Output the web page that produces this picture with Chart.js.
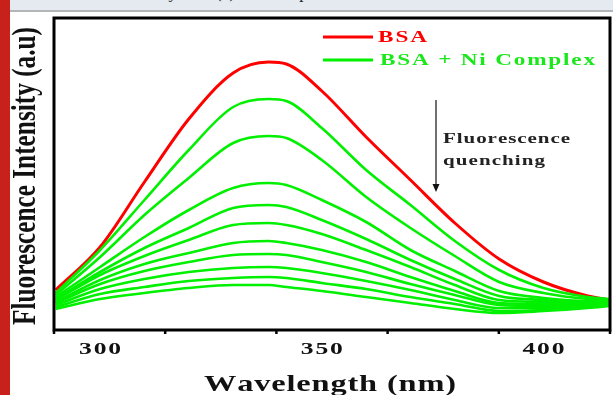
<!DOCTYPE html>
<html><head><meta charset="utf-8">
<script src="https://cdn.jsdelivr.net/npm/chart.js@4/dist/chart.umd.min.js"></script>
<style>
html,body{margin:0;padding:0;background:#fff;width:613px;height:395px;overflow:hidden;}
#wrap{position:relative;width:613px;height:395px;}
#c{position:absolute;left:0;top:0;}
#bar{position:absolute;left:0;top:0;width:10px;height:395px;background:#c8201a;z-index:3}
#band{position:absolute;left:10px;top:0;width:603px;height:10px;background:#e5eaf0;border-bottom:2px solid #b4b6b8;overflow:hidden;z-index:2}
#band span{position:absolute;top:-17px;font:17px "Liberation Serif",serif;color:#222;white-space:nowrap}
</style></head>
<body>
<div id="wrap">
<canvas id="c" width="613" height="395"></canvas>
<div id="bar"></div>
<div id="band"><span style="left:150px">by</span><span style="left:206px">(a)</span><span style="left:260px">complex</span></div>
</div>
<script>
// ---- data ----
const wavelengths = [290, 300, 310, 320, 330, 338, 342, 350, 360, 370, 380, 390, 400, 410, 415];
const bsa   = [40, 83, 148, 211, 257, 268, 266, 239, 193, 150, 107, 71, 48, 34, 30];
const ni1   = [37, 80, 130, 180, 223, 231, 229, 202, 160, 125, 89, 60, 42, 33, 31];
const ni2   = [35, 73, 115, 152, 187, 194, 192, 170, 133, 102, 74, 48, 37, 31, 30];
const ni3   = [33, 63, 93, 120, 142, 147, 145, 130, 108, 80, 59, 39, 32, 29, 29];
const ni4   = [31, 58, 82, 102, 122, 125, 123, 110, 91, 70, 51, 34, 30, 28, 28];
const ni5   = [30, 55, 74, 90, 105, 107, 105, 96, 80, 63, 45, 30, 28, 27, 28];
const ni6   = [28, 50, 66, 77, 87, 89, 87, 80, 68, 53, 39, 27, 26, 26, 27];
const ni7   = [27, 46, 59, 68, 75, 76, 75, 68, 58, 46, 35, 25, 24, 25, 27];
const ni8   = [25, 41, 51, 58, 62, 63, 62, 57, 49, 40, 30, 22, 22, 24, 26];
const ni9   = [23, 36, 43, 49, 52, 53, 52, 47, 41, 33, 26, 19, 20, 23, 25];
const ni10  = [21, 31, 37, 42, 45, 45, 43, 39, 33, 27, 21, 17, 19, 22, 24];
const xTickLabels = [300, 350, 400];
const legendLabels = ["BSA", "BSA + Ni Complex"];
const xTitle = "Wavelength (nm)";
const yTitle = "Fluorescence Intensity (a.u)";
const noteLines = ["Fluorescence", "quenching"];

const RED = '#ff0000', GREEN = '#00f000';
const greenSeries = [ni1, ni2, ni3, ni4, ni5, ni6, ni7, ni8, ni9, ni10];
const toPts = arr => arr.map((v, i) => ({x: wavelengths[i], y: v}));

const datasets = greenSeries.map((s, i) => ({
  label: legendLabels[1] + ' ' + (i + 1), data: toPts(s), borderColor: GREEN, borderWidth: 2.6,
  pointRadius: 0, cubicInterpolationMode: 'monotone', fill: false
}));
datasets.push({label: legendLabels[0], data: toPts(bsa), borderColor: RED, borderWidth: 3,
  pointRadius: 0, cubicInterpolationMode: 'monotone', fill: false});

function stretchText(ctx, text, x, y, width, font, color, sx) {
  ctx.save();
  ctx.font = font; ctx.fillStyle = color; ctx.textBaseline = 'alphabetic'; ctx.textAlign = 'left';
  const chars = Array.from(text);
  let natural = 0; chars.forEach(ch => natural += ctx.measureText(ch).width);
  const spacing = chars.length > 1 ? (width / sx - natural) / (chars.length - 1) : 0;
  ctx.translate(x, y); ctx.scale(sx, 1);
  let cx = 0;
  chars.forEach(ch => { ctx.fillText(ch, cx, 0); cx += ctx.measureText(ch).width + spacing; });
  ctx.restore();
}

const decor = {
  id: 'decor',
  afterDraw(chart) {
    const ctx = chart.ctx, a = chart.chartArea, xs = chart.scales.x;
    // frame
    ctx.save();
    ctx.strokeStyle = '#000'; ctx.lineWidth = 3;
    ctx.strokeRect(a.left, a.top, a.right - a.left, a.bottom - a.top);
    // ticks
    ctx.lineWidth = 2.5;
    xs.ticks.forEach(t => {
      const px = xs.getPixelForValue(t.value);
      const len = (t.value % 50 === 0) ? 7 : 4;
      ctx.beginPath(); ctx.moveTo(px, a.bottom); ctx.lineTo(px, a.bottom + len); ctx.stroke();
    });
    ctx.restore();
    // tick labels
    xTickLabels.forEach(v => {
      const px = xs.getPixelForValue(v);
      stretchText(ctx, String(v), px - 21, 354, 42, 'bold 16px "Liberation Serif"', '#111', 1.6);
    });
    // x title
    stretchText(ctx, xTitle, 330 - 126, 391, 252, 'bold 24px "Liberation Serif"', '#111', 1.35);
    // y title
    ctx.save();
    ctx.font = 'bold 33px "Liberation Serif"'; ctx.fillStyle = '#111';
    const w = ctx.measureText(yTitle).width;
    ctx.translate(35, (a.top + a.bottom) / 2 + 2); ctx.rotate(-Math.PI / 2);
    ctx.scale(298 / w, 1); ctx.textAlign = 'center'; ctx.textBaseline = 'alphabetic';
    ctx.fillText(yTitle, 0, 0);
    ctx.restore();
    // legend
    ctx.save();
    ctx.lineWidth = 3;
    ctx.strokeStyle = RED; ctx.beginPath(); ctx.moveTo(323, 37); ctx.lineTo(373, 37); ctx.stroke();
    ctx.strokeStyle = GREEN; ctx.beginPath(); ctx.moveTo(323, 60); ctx.lineTo(373, 60); ctx.stroke();
    ctx.restore();
    stretchText(ctx, legendLabels[0], 378, 42, 49, 'bold 16px "Liberation Serif"', RED, 1.45);
    stretchText(ctx, legendLabels[1], 380, 65, 215, 'bold 16px "Liberation Serif"', '#1be81b', 1.45);
    // annotation arrow
    ctx.save();
    ctx.strokeStyle = '#111'; ctx.fillStyle = '#111'; ctx.lineWidth = 1.2;
    ctx.beginPath(); ctx.moveTo(436, 100); ctx.lineTo(436, 186); ctx.stroke();
    ctx.beginPath(); ctx.moveTo(432.5, 184); ctx.lineTo(439.5, 184); ctx.lineTo(436, 192); ctx.closePath(); ctx.fill();
    ctx.restore();
    stretchText(ctx, noteLines[0], 443, 143, 127, 'bold 15px "Liberation Serif"', '#222', 1.4);
    stretchText(ctx, noteLines[1], 443, 165, 102, 'bold 15px "Liberation Serif"', '#222', 1.4);
  }
};

new Chart(document.getElementById('c'), {
  type: 'line',
  data: { datasets },
  options: {
    responsive: false, animation: false, devicePixelRatio: 1,
    layout: { padding: { left: 54, top: 18, right: 3, bottom: 0 } },
    plugins: { legend: { display: false }, tooltip: { enabled: false } },
    scales: {
      x: {
        type: 'linear', min: 289.6, max: 415,
        ticks: { display: false, stepSize: 25, includeBounds: false },
        grid: { display: false }, border: { display: false },
        afterFit: s => { s.height = 65; }
      },
      y: {
        display: false, min: 0, max: 312
      }
    }
  },
  plugins: [decor]
});
</script>
</body></html>
